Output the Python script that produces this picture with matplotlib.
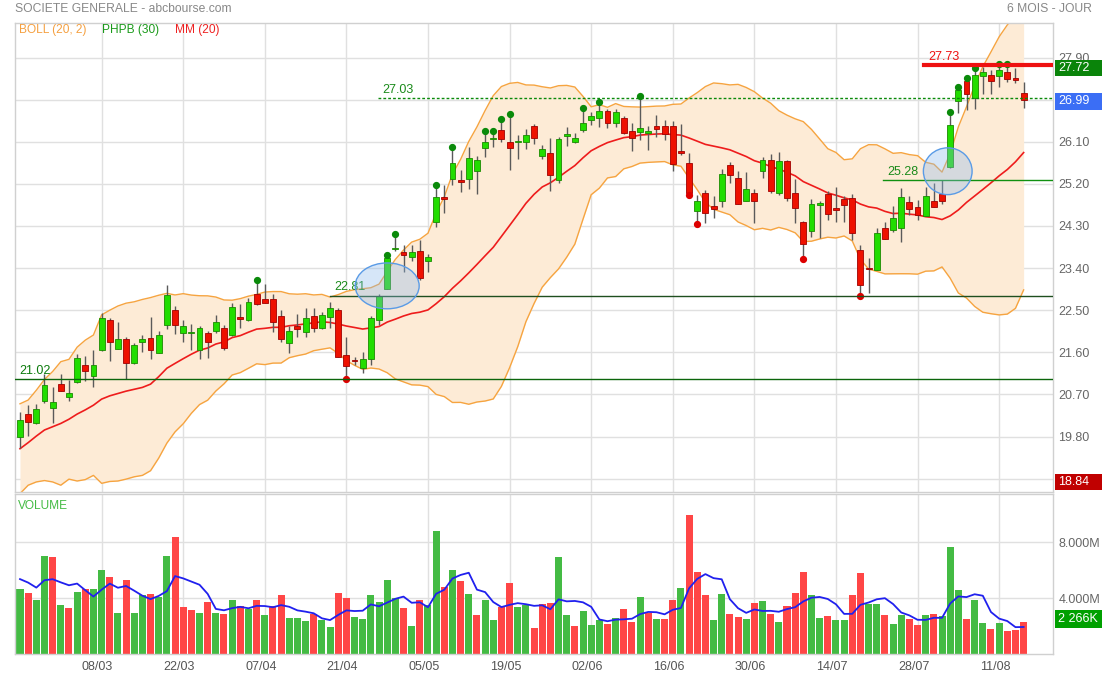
import numpy as np
import pandas as pd
import matplotlib
matplotlib.use('Agg')
import matplotlib.pyplot as plt
from matplotlib.patches import Ellipse, Rectangle
import matplotlib.transforms as mtransforms

plt.rcParams['font.family'] = ['Liberation Sans', 'DejaVu Sans']

# ---------------- data ----------------
opens = [19.78, 20.28, 20.08, 20.56, 20.40, 20.92, 20.65, 20.96, 21.32, 21.10,
         21.64, 22.30, 21.68, 21.88, 21.38, 21.82, 21.90, 21.59, 22.18, 22.50,
         22.02, 22.01, 21.65, 22.01, 22.05, 22.11, 21.98, 22.35, 22.30, 22.85,
         22.74, 22.73, 22.38, 21.79, 22.17, 22.03, 22.38, 22.13, 22.36, 22.50,
         21.54, 21.42, 21.27, 21.45, 22.29, 22.95, 23.80, 23.74, 23.63, 23.76,
         23.56, 24.39, 24.90, 25.30, 25.28, 25.30, 25.48, 25.96, 26.16, 26.35,
         26.10, 26.09, 26.09, 26.44, 25.79, 25.85, 25.29, 26.23, 26.09, 26.36,
         26.56, 26.60, 26.76, 26.49, 26.60, 26.34, 26.30, 26.28, 26.44, 26.44,
         26.44, 25.88, 25.64, 24.61, 25.00, 24.73, 24.84, 25.60, 25.32, 24.84,
         25.00, 25.48, 25.72, 25.00, 25.69, 25.00, 24.38, 24.19, 24.74, 24.98,
         24.66, 24.88, 24.89, 23.79, 23.39, 23.36, 24.25, 24.21, 24.25, 24.81,
         24.71, 24.52, 24.83, 24.98, 25.57, 26.97, 27.40, 27.04, 27.51, 27.53,
         27.51, 27.58, 27.44, 27.15]
highs = [20.32, 20.47, 20.50, 21.13, 20.85, 21.13, 21.01, 21.56, 21.53, 21.65,
         22.45, 22.33, 22.25, 21.93, 21.79, 21.96, 22.35, 22.06, 23.04, 22.59,
         22.29, 22.20, 22.16, 22.05, 22.40, 22.18, 22.65, 22.63, 22.77, 23.09,
         23.05, 22.85, 22.50, 22.16, 22.41, 22.54, 22.54, 22.47, 22.68, 22.54,
         21.93, 21.51, 21.60, 22.38, 22.85, 23.64, 24.07, 23.89, 23.89, 23.99,
         23.71, 25.13, 25.18, 25.94, 25.50, 25.99, 25.80, 26.28, 26.28, 26.53,
         26.64, 26.24, 26.37, 26.47, 26.04, 26.17, 26.21, 26.41, 26.28, 26.78,
         26.73, 26.91, 26.80, 26.80, 26.64, 26.51, 27.03, 26.44, 26.67, 26.56,
         26.54, 26.47, 25.85, 24.96, 25.07, 24.93, 25.51, 25.66, 25.47, 25.45,
         25.10, 25.77, 25.83, 25.89, 25.71, 25.30, 24.41, 24.87, 24.83, 25.05,
         25.13, 24.93, 24.99, 23.89, 23.62, 24.25, 24.39, 24.73, 25.12, 24.93,
         24.85, 25.14, 25.21, 25.28, 26.68, 27.23, 27.42, 27.63, 27.70, 27.63,
         27.72, 27.72, 27.68, 27.38]
lows = [19.55, 19.81, 20.07, 20.52, 20.10, 20.78, 20.57, 20.95, 20.99, 20.85,
        21.62, 21.41, 21.67, 21.04, 21.35, 21.61, 21.45, 21.58, 22.09, 22.00,
        21.83, 21.66, 21.45, 21.47, 22.01, 21.66, 21.95, 22.11, 22.27, 22.61,
        22.66, 22.04, 21.81, 21.59, 21.92, 21.92, 22.04, 22.09, 22.13, 21.50,
        21.08, 21.33, 21.15, 21.33, 22.18, 22.95, 23.77, 23.32, 23.56, 23.14,
        23.32, 24.27, 24.58, 25.18, 25.03, 25.08, 24.98, 25.78, 25.99, 26.10,
        25.50, 25.73, 25.94, 26.05, 25.73, 25.05, 25.21, 26.01, 26.07, 26.31,
        26.46, 26.42, 26.39, 26.41, 26.26, 25.90, 26.14, 25.92, 26.21, 26.14,
        25.47, 25.82, 25.01, 24.39, 24.36, 24.46, 24.70, 25.21, 24.76, 24.84,
        24.36, 25.32, 25.01, 24.96, 24.83, 24.36, 23.64, 24.06, 24.04, 24.43,
        24.39, 24.39, 24.00, 22.85, 22.86, 23.36, 24.03, 24.18, 23.96, 24.53,
        24.43, 24.52, 24.71, 24.78, 25.53, 26.71, 26.78, 26.81, 27.13, 27.12,
        27.28, 27.37, 27.35, 26.83]
closes = [20.15, 20.11, 20.39, 20.91, 20.54, 20.78, 20.73, 21.47, 21.21, 21.32,
          22.33, 21.81, 21.88, 21.38, 21.75, 21.88, 21.66, 21.96, 22.82, 22.18,
          22.16, 22.04, 22.11, 21.83, 22.24, 21.70, 22.56, 22.32, 22.67, 22.64,
          22.66, 22.24, 21.89, 22.05, 22.09, 22.33, 22.12, 22.39, 22.54, 21.51,
          21.31, 21.41, 21.45, 22.33, 22.80, 23.61, 23.82, 23.67, 23.74, 23.19,
          23.63, 24.91, 24.88, 25.65, 25.25, 25.76, 25.71, 26.09, 26.17, 26.15,
          25.97, 26.10, 26.24, 26.19, 25.94, 25.40, 26.16, 26.24, 26.19, 26.51,
          26.64, 26.76, 26.51, 26.74, 26.29, 26.17, 26.39, 26.34, 26.37, 26.26,
          25.62, 25.87, 25.01, 24.83, 24.57, 24.66, 25.42, 25.40, 24.76, 25.08,
          24.84, 25.71, 25.05, 25.69, 24.89, 24.68, 23.91, 24.76, 24.80, 24.56,
          24.65, 24.75, 24.14, 23.04, 23.37, 24.14, 24.03, 24.46, 24.91, 24.66,
          24.53, 24.93, 24.71, 24.84, 26.46, 27.20, 27.13, 27.52, 27.58, 27.40,
          27.63, 27.45, 27.43, 26.99]
volumes_m = [4.68, 4.34, 3.83, 7.01, 6.91, 3.54, 3.30, 4.44, 4.63, 4.65,
             5.99, 5.48, 2.96, 5.26, 2.96, 4.19, 4.27, 4.10, 6.98, 8.34,
             3.37, 3.13, 2.96, 3.71, 2.96, 2.88, 3.90, 3.42, 3.20, 3.83,
             2.81, 3.47, 4.19, 2.59, 2.55, 2.35, 2.88, 2.40, 1.96, 4.39,
             3.98, 2.64, 2.52, 4.22, 3.71, 5.31, 3.98, 3.32, 2.01, 3.90,
             3.51, 8.80, 4.78, 6.01, 5.19, 4.29, 2.76, 3.90, 2.45, 3.39,
             5.09, 3.37, 3.51, 1.87, 3.59, 3.66, 6.93, 2.79, 2.01, 3.10,
             2.06, 2.40, 2.16, 2.57, 3.22, 2.28, 4.05, 2.93, 2.47, 2.47,
             3.90, 4.70, 9.96, 5.84, 4.19, 2.45, 4.29, 2.84, 2.62, 2.52,
             3.66, 3.76, 2.88, 2.30, 3.47, 4.34, 5.84, 4.19, 2.57, 2.74,
             2.45, 2.40, 4.22, 5.79, 3.56, 3.61, 2.79, 2.13, 2.76, 2.52,
             2.04, 2.76, 2.88, 2.74, 7.66, 4.56, 2.52, 3.90, 2.21, 1.82,
             2.21, 1.65, 1.72, 2.266]

tick_index = [10, 20, 30, 40, 50, 60, 70, 80, 90, 100, 110, 120]
tick_labels = ['08/03', '22/03', '07/04', '21/04', '05/05', '19/05',
               '02/06', '16/06', '30/06', '14/07', '28/07', '11/08']

# indicator values for the first days (window not yet full)
mm_start = [19.54, 19.67, 19.81, 19.94, 20.01, 20.08, 20.17, 20.28, 20.37, 20.47,
            20.60, 20.67, 20.72, 20.77, 20.81, 20.85, 20.92, 21.08, 21.26]
boll_up_start = [20.50, 20.58, 20.79, 21.02, 21.19, 21.40, 21.45, 21.71, 21.86, 21.97,
                 22.40, 22.50, 22.59, 22.65, 22.68, 22.73, 22.77, 22.82, 22.86]
vol_ma_start = [5.36, 5.11, 4.75, 5.28]

high_marks = [29, 45, 46, 51, 53, 57, 58, 59, 60, 69, 71, 76, 114, 115, 116, 117, 120, 121]
low_marks = [40, 82, 83, 96, 103]

level_values = [21.02, 22.81, 27.03, 25.28, 27.73]
level_labels = ['21.02', '22.81', '27.03', '25.28', '27.73']
level_from = [-0.6, 38.0, 43.9, 105.8, 110.8]

last_high = 27.72
last_close = 26.99
low_box = 18.84
last_volume = 2.266

# ---------------- indicators ----------------
n = len(closes)
x = np.arange(n)
c = pd.Series(closes)
mm = c.rolling(20).mean()
sd = c.rolling(20).std(ddof=0)
up = mm + 2 * sd
lo = mm - 2 * sd
for i in range(len(mm_start)):
    mm[i] = mm_start[i]
    up[i] = boll_up_start[i]
    lo[i] = 2 * mm_start[i] - boll_up_start[i]
v = pd.Series(volumes_m)
vma = v.rolling(5).mean()
for i in range(len(vol_ma_start)):
    vma[i] = vol_ma_start[i]

# ---------------- figure ----------------
W, H = 1102, 677
fig = plt.figure(figsize=(W / 100, H / 100), dpi=100)
fig.patch.set_facecolor('white')

def rect(l, t, r, b):
    return [l / W, 1 - b / H, (r - l) / W, (b - t) / H]

ax = fig.add_axes(rect(15, 22.7, 1053, 492))
axv = fig.add_axes(rect(15, 494, 1053, 654), sharex=ax)

xl = (-0.613, 126.6)
ax.set_xlim(*xl)
ax.set_ylim(18.615, 28.644)
axv.set_ylim(0, 11.45)

grid_c = '#e0e0e0'
for a in (ax, axv):
    for s in a.spines.values():
        s.set_color('#d0d0d0')
        s.set_linewidth(1)
    a.set_facecolor('white')
    a.yaxis.tick_right()
    a.tick_params(axis='both', length=0, labelsize=9, labelcolor='#666666', pad=4)
    for t in tick_index:
        a.axvline(t, color=grid_c, lw=1, zorder=0)

yt = np.round(np.arange(18.9, 27.91, 0.9), 2)
ax.set_yticks(yt)
ax.set_yticklabels([f'{t:.2f}' for t in yt])
for t in yt:
    ax.axhline(t, color=grid_c, lw=1, zorder=0)
ax.tick_params(axis='x', labelbottom=False)

axv.set_yticks([4, 8])
axv.set_yticklabels(['4.000M', '8.000M'])
for t in [4, 8]:
    axv.axhline(t, color=grid_c, lw=1, zorder=0)
axv.set_xticks(tick_index)
axv.set_xticklabels(tick_labels)
axv.tick_params(axis='x', labelcolor='#555555', pad=5)
offset = mtransforms.ScaledTranslation(-4 / 100, 0, fig.dpi_scale_trans)
for lab in axv.get_xticklabels():
    lab.set_transform(lab.get_transform() + offset)

# Bollinger
ax.fill_between(x, lo, up, color='#fdebd6', lw=0, zorder=1)
ax.plot(x, up, color='#f6a440', lw=1, zorder=2)
ax.plot(x, lo, color='#f6a440', lw=1, zorder=2)
# MM 20
ax.plot(x, mm, color='#ee1c1c', lw=1.2, zorder=2.5)

# candles
o = np.array(opens); h = np.array(highs); l = np.array(lows); cl = np.array(closes)
upc = cl >= o
ax.vlines(x, l, h, color='#5a5a5a', lw=1, zorder=3)
body_b = np.minimum(o, cl)
body_h = np.maximum(np.abs(cl - o), 0.03)
ax.bar(x[upc], body_h[upc], bottom=body_b[upc], width=0.72,
       color='#22dd00', edgecolor='#1a8a00', lw=0.6, zorder=4)
ax.bar(x[~upc], body_h[~upc], bottom=body_b[~upc], width=0.72,
       color='#ee1100', edgecolor='#a00000', lw=0.6, zorder=4)

# new highs / lows markers
ax.plot(high_marks, h[high_marks] + 0.05, 'o', color='#0a8a0a', ms=4.2, zorder=5)
ax.plot(low_marks, l[low_marks] - 0.05, 'o', color='#dd0000', ms=4.2, zorder=5)

# levels
styles = [dict(color='#0b650b', lw=1, ls='-'),
          dict(color='#1f4f1f', lw=1, ls='-'),
          dict(color='#0a8a0a', lw=1, ls=(0, (2, 1.5))),
          dict(color='#109010', lw=1, ls='-'),
          dict(color='#ee1111', lw=3, ls='-')]
text_cols = ['#0b7a0b', '#1a8a1a', '#1a8a1a', '#1a8a1a', '#ee1111']
for val, lab, x0, st, tc in zip(level_values, level_labels, level_from, styles, text_cols):
    ax.plot([x0, xl[1]], [val, val], zorder=6, **st)
    ax.text(x0 + 0.55, val + 0.05, lab, color=tc, fontsize=9, va='bottom', ha='left', zorder=6)

# highlight ellipses
for cx, cy, ew, eh in [(45.0, 23.02, 7.84, 0.98), (113.7, 25.47, 5.97, 1.0)]:
    ax.add_patch(Ellipse((cx, cy), ew, eh, facecolor=(0.55, 0.73, 0.93, 0.35),
                         edgecolor='#5a9be6', lw=1, zorder=7))

# right-hand value boxes
trans = mtransforms.blended_transform_factory(ax.transAxes, ax.transData)
for val, col, bpx, dpx in [(last_high, '#0a840a', 16, 2.5), (last_close, '#3b6ef5', 17, 1.0),
                           (low_box, '#c00000', 16, 1.0)]:
    bh = bpx / 46.8
    cy = val - dpx / 46.8
    ax.add_patch(Rectangle((1.0019, cy - bh / 2), 0.0453, bh, transform=trans,
                           facecolor=col, edgecolor='none', clip_on=False, zorder=10))
    ax.text(1.0048, cy, f'{val:.2f}', transform=trans, color='white', fontsize=9,
            va='center', ha='left', zorder=11, clip_on=False)

# volume
vc = np.array(volumes_m)
prev = np.concatenate([[opens[0]], cl[:-1]])
vup = cl >= prev
axv.bar(x[vup], vc[vup], width=0.86, color='#44bb44', lw=0, zorder=2)
axv.bar(x[~vup], vc[~vup], width=0.86, color='#ff4646', lw=0, zorder=2)
axv.plot(x, vma, color='#2020ee', lw=1.3, zorder=3)
transv = mtransforms.blended_transform_factory(axv.transAxes, axv.transData)
vbh = 18 / 55 * 4
axv.add_patch(Rectangle((1.0019, last_volume - vbh / 2 + 0.25), 0.0453, vbh, transform=transv,
                        facecolor='#00a000', edgecolor='none', clip_on=False, zorder=10))
axv.text(1.0048, last_volume + 0.25, '2 266K', transform=transv, color='white', fontsize=9,
         va='center', ha='left', zorder=11, clip_on=False)

# header texts
fig.text(15 / W, 1 - 9 / H, 'SOCIETE GENERALE - abcbourse.com', color='#888888',
         fontsize=8.7, va='center', ha='left')
fig.text(1092 / W, 1 - 9 / H, '6 MOIS - JOUR', color='#888888',
         fontsize=8.7, va='center', ha='right')
fig.text(19 / W, 1 - 30 / H, 'BOLL (20, 2)', color='#f5a040', fontsize=8.6, va='center')
fig.text(102 / W, 1 - 30 / H, 'PHPB (30)', color='#1a9a1a', fontsize=8.6, va='center')
fig.text(175 / W, 1 - 30 / H, 'MM (20)', color='#ee2222', fontsize=8.6, va='center')
fig.text(18 / W, 1 - 506 / H, 'VOLUME', color='#44bb44', fontsize=8.6, va='center')

fig.savefig('out.png', dpi=100)
